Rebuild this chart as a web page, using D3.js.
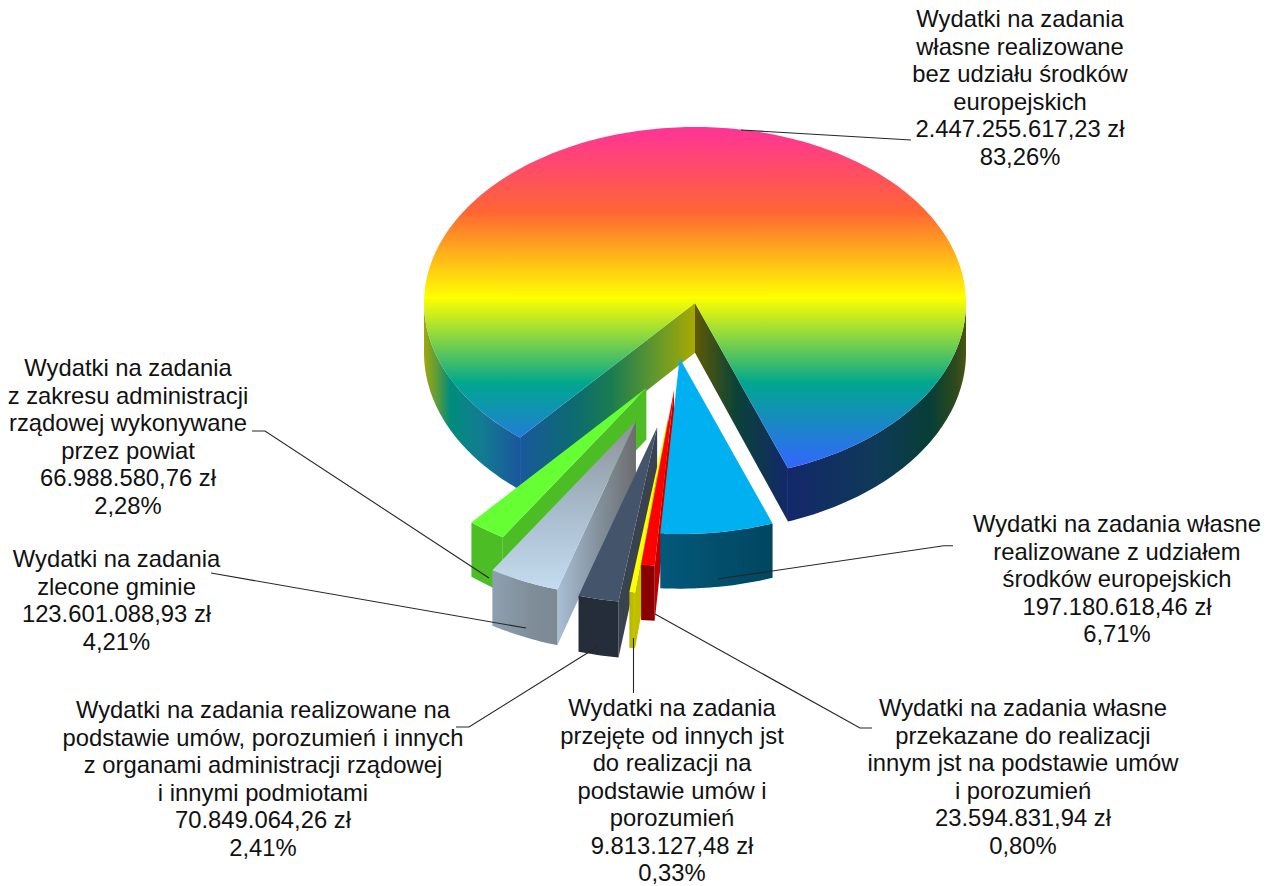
<!DOCTYPE html>
<html lang="pl"><head><meta charset="utf-8">
<script src="https://cdn.jsdelivr.net/npm/d3@7"></script>
<style>html,body{margin:0;background:#fff}svg{display:block}</style>
</head><body><svg id="c" width="1274" height="886"></svg>
<script>
// ---- data ----
const categories = ["wlasne_bez_ue","wlasne_ue","przekazane","przejete","umowy","zlecone","administracja"];
const values = [2447255617.23,197180618.46,23594831.94,9813127.48,70849064.26,123601088.93,66988580.76];
const labelLines = [
 ["Wydatki na zadania","własne realizowane","bez udziału środków","europejskich"],
 ["Wydatki na zadania własne","realizowane z udziałem","środków europejskich"],
 ["Wydatki na zadania własne","przekazane do realizacji","innym jst na podstawie umów","i porozumień"],
 ["Wydatki na zadania","przejęte od innych jst","do realizacji na","podstawie umów i","porozumień"],
 ["Wydatki na zadania realizowane na","podstawie umów, porozumień i innych","z organami administracji rządowej","i innymi podmiotami"],
 ["Wydatki na zadania","zlecone gminie"],
 ["Wydatki na zadania","z zakresu administracji","rządowej wykonywane","przez powiat"]
];
// ---- layout configuration ----
const W=1274,H=886, cx=695, cy=303, rx=271, ry=176;
const startDeg=220.2;
const explodeAmount=[0,.318,.5,.66,.72,.705,.515];
const explodeDir=[0,190.3,188.9,188.7,191.2,198,200.4];
const labelAnchor=[[1020,27],[1117,532],[1023,716],[672,716],[263,718],[116.5,567],[128,376]];
const leaders=[
 [[741,130],[911,140]],
 [[717.6,579],[943.6,545.7],[953,545.7]],
 [[655,614],[860,728],[872,728]],
 [[633.5,638],[633.5,693]],
 [[597,647],[469,727],[456,727]],
 [[526,628],[211,573]],
 [[489,578],[265,431],[252,431]]
];
const drawOrder=[0,6,5,4,3,2,1];
const topFill=["url(#rainbow)","#00b0f0","#ff0000","#ffff00","#44546a","url(#greyTop)","#66ff33"];
const frontFill=[null,"url(#blueFront)","#8a0000","url(#yellowFront)","#262d3a","url(#greyFront)","#4dbd26"];
const sideFill=[null,null,"#c00000","#bfbf00","#39424f","url(#greySide)","#4dbd26"];
const font="'Liberation Sans',Arial,sans-serif", fontSize=23.8, lineH=27.5;

const svg=d3.select("#c"), defs=svg.append("defs");
function grad(id,x1,y1,x2,y2,stops){
  const g=defs.append("linearGradient").attr("id",id).attr("gradientUnits","userSpaceOnUse")
    .attr("x1",x1).attr("y1",y1).attr("x2",x2).attr("y2",y2);
  stops.forEach(s=>g.append("stop").attr("offset",s[0]).attr("stop-color",s[1]));
}
grad("rainbow",0,127,0,468,[[0,"#ff3399"],[.25,"#ff6633"],[.5,"#ffff00"],[.75,"#01a78f"],[1,"#3366ff"]]);
grad("wallLO",424,0,520,0,[[0,"#a0a80c"],[.14,"#5a9c3c"],[.27,"#008c7c"],[.6,"#127c92"],[1,"#1b569c"]]);
grad("wallLC",520,0,695,0,[[0,"#1a589c"],[.3,"#0c6a72"],[.52,"#1a7c52"],[.78,"#64982c"],[1,"#a8aa00"]]);
grad("wallRC",695,0,788,0,[[0,"#5e5a04"],[.45,"#0a4238"],[1,"#13286a"]]);
grad("wallRO",788,0,966,0,[[0,"#13286a"],[.5,"#0f3a58"],[.8,"#073e36"],[.94,"#2c4a1c"],[1,"#4c5410"]]);
grad("blueFront",662,0,773,0,[[0,"#04587a"],[1,"#00465f"]]);
grad("yellowFront",631,0,642,0,[[0,"#b8b800"],[1,"#e0e000"]]);
grad("greyTop",0,421,0,587,[[0,"#8c9196"],[.55,"#a8bccd"],[1,"#c4daee"]]);
grad("greyFront",493,0,559,0,[[0,"#8e9fae"],[.6,"#7f8d99"],[1,"#7c8a94"]]);
grad("greySide",559,0,636,0,[[0,"#a8bdd2"],[.5,"#84929e"],[1,"#6c6c6e"]]);

const rad=d=>d*Math.PI/180;
const pieGen=d3.pie().sort(null).startAngle(rad(startDeg)).endAngle(rad(startDeg+360));
const arcs=pieGen(values);
const depth=d3.scaleLinear().domain([130,600]).range([46,56]);
const line=d3.line();

function project(i,a,r=1){
  const e=explodeAmount[i], dir=rad(explodeDir[i]);
  return [cx+rx*(e*Math.sin(dir)+r*Math.sin(a)), cy-ry*(e*Math.cos(dir)+r*Math.cos(a))];
}
function arcPts(i,a0,a1){
  const n=Math.max(2,Math.ceil(Math.abs(a1-a0)/rad(1)));
  return d3.range(n+1).map(k=>project(i,a0+(a1-a0)*k/n));
}
const drop=p=>[p[0],p[1]+depth(p[1])];
const wall=pts=>line(pts.concat(pts.map(drop).reverse()))+"Z";

const g=svg.append("g").attr("shape-rendering","geometricPrecision");

// the large slice first
const big=arcs[0];
const bigBack=g.append("g");
bigBack.append("path").attr("d",wall(arcPts(0,rad(220.2),rad(270)))).attr("fill","url(#wallLO)");
bigBack.append("path").attr("d",wall(arcPts(0,rad(450),big.endAngle))).attr("fill","url(#wallRO)");
bigBack.append("path").attr("d",wall([project(0,big.endAngle),project(0,0,0)])).attr("fill","url(#wallRC)");
bigBack.append("path").attr("d",wall([project(0,big.startAngle),project(0,0,0)])).attr("fill","url(#wallLC)");

drawOrder.forEach(i=>{
  const d=arcs[i], sl=g.append("g");
  const apex=project(i,0,0);
  if(i>0){
    if(d.startAngle>rad(180)+rad(360)) {
      sl.append("path").attr("d",wall([apex,project(i,d.startAngle)])).attr("fill",sideFill[i]);
    }
    sl.append("path").attr("d",wall(arcPts(i,d.startAngle,d.endAngle))).attr("fill",frontFill[i]);
  }
  sl.append("path").attr("d",line([apex].concat(arcPts(i,d.startAngle,d.endAngle)))+"Z").attr("fill",topFill[i]);
});

// leader lines
svg.append("g").selectAll("path").data(leaders).join("path")
  .attr("d",line).attr("fill","none").attr("stroke","#262626").attr("stroke-width",1.1);

// labels
const pl=d3.formatLocale({decimal:",",thousands:".",grouping:[3],currency:["","zł"]});
const fmtAmount=pl.format(",.2f"), fmtPct=pl.format(".2f");
const total=d3.sum(values);
const t=svg.append("g").attr("font-family",font).attr("font-size",fontSize).attr("fill","#111").attr("text-anchor","middle");
categories.forEach((c,i)=>{
  const lines=labelLines[i].concat([fmtAmount(values[i])+" zł",fmtPct(values[i]/total*100)+"%"]);
  const txt=t.append("text").attr("data-cat",c);
  lines.forEach((s,k)=>txt.append("tspan").attr("x",labelAnchor[i][0]).attr("y",labelAnchor[i][1]+k*lineH).text(s));
});
</script></body></html>
